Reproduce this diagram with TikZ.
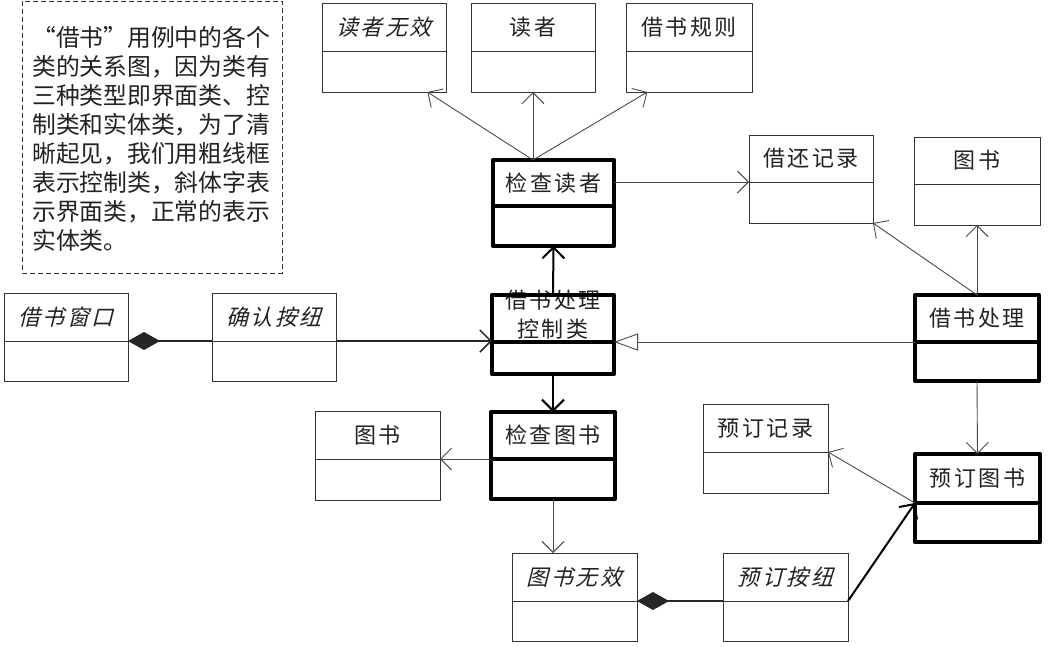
\documentclass[tikz,border=0pt]{standalone}
\usepackage{fontspec}
\setmainfont{Noto Sans CJK SC}
\newfontfamily\cjkup[LetterSpace=12]{Noto Sans CJK SC}
\newfontfamily\cjkit[LetterSpace=12,FakeSlant=0.25]{Noto Sans CJK SC}
\newfontfamily\cjknote{Noto Sans CJK SC}
\usetikzlibrary{arrows.meta,calc}
\definecolor{boxc}{HTML}{333333}
\definecolor{linec}{HTML}{4A4A4A}
\definecolor{txtc}{HTML}{222222}
\tikzset{
  thinbox/.style={draw=boxc, line width=1pt, inner sep=0pt, outer sep=0pt},
  thickbox/.style={draw=black, line width=4.8pt, line join=round, inner sep=0pt, outer sep=0pt},
  lbl/.style={font=\cjkup\fontsize{22}{29}\selectfont, text=txtc, inner sep=0pt, align=center},
  lblit/.style={font=\cjkit\fontsize{22}{29}\selectfont, text=txtc, inner sep=0pt},
  notetxt/.style={font=\cjknote\fontsize{23.8}{29}\selectfont, text=txtc, inner sep=0pt},
  barb/.style={-{Straight Barb[length=11pt,width=22pt]}},
  con/.style={draw=linec, line width=0.9pt, barb},
  medcon/.style={draw=black!85, line width=1.5pt, barb},
  thickcon/.style={draw=black, line width=2pt, barb},
  comp/.style={draw=black!85, line width=1.5pt, {Diamond[length=32pt,width=18pt]}-},
  gen/.style={draw=linec, line width=0.9pt, -{Triangle[open,length=24pt,width=17pt,fill=white]}},
}
\newcommand\classbox[9]{%
  \node[#7, anchor=north west, minimum width={#4-#2}, minimum height={#5-#3}] (#1) at (#2,#3) {};
  \draw[#7] (#2,#6) -- (#4,#6);
  \coordinate (#1-dw) at (#2,#6);
  \coordinate (#1-de) at (#4,#6);
  \node[#9] (#1-t) at ({(#2+#4)/2},{(#3+#6)/2}) {#8};
}
\begin{document}
\begin{tikzpicture}[x=1pt,y=-1pt]
\useasboundingbox (0,0) rectangle (1050,646);
\fill[white] (0,0) rectangle (1050,646);

% note
\node[draw=boxc, dash pattern=on 5pt off 3pt, line width=1pt, anchor=north west,
      minimum width=260, minimum height=272, inner sep=0pt, outer sep=0pt] (note) at (22,1) {};
\foreach \t [count=\i] in {“借书”用例中的各个,类的关系图，因为类有,三种类型即界面类、控,制类和实体类，为了清,晰起见，我们用粗线框,表示控制类，斜体字表,示界面类，正常的表示,实体类。}
  {\node[notetxt, anchor=base west] (note-\i) at (32,{46+29*(\i-1)}) {\t};}

% classes
\classbox{wx}{322}{3}{446}{92}{51}{thinbox}{读者无效}{lblit}
\classbox{dz}{471}{3}{595}{92}{51}{thinbox}{读者}{lbl}
\classbox{gz}{626}{3}{752}{92}{51}{thinbox}{借书规则}{lbl}
\classbox{ckdz}{493}{160}{614}{246}{206}{thickbox}{检查读者}{lbl}
\classbox{jhjl}{749}{135}{873}{223}{182}{thinbox}{借还记录}{lbl}
\classbox{tsa}{914}{137}{1040}{225}{184}{thinbox}{图书}{lbl}
\classbox{jw}{4}{293}{128}{381}{341}{thinbox}{借书窗口}{lblit}
\classbox{qr}{212}{293}{336}{381}{341}{thinbox}{确认按纽}{lblit}
\node[lbl] (ctl-t) at (553,315) {借书处理\\控制类};
\classbox{ctl}{492}{295}{614}{374}{342}{thickbox}{}{lbl}
\classbox{jscl}{915}{295}{1039}{381}{342}{thickbox}{借书处理}{lbl}
\classbox{tsb}{315}{411}{440}{500}{459}{thinbox}{图书}{lbl}
\classbox{ckts}{491}{412}{615}{499}{459}{thickbox}{检查图书}{lbl}
\classbox{ydjl}{703}{404}{828}{493}{452}{thinbox}{预订记录}{lbl}
\classbox{ydts}{915}{454}{1040}{542}{503}{thickbox}{预订图书}{lbl}
\classbox{tswx}{512}{553}{637}{641}{601}{thinbox}{图书无效}{lblit}
\classbox{ydan}{723}{553}{848}{641}{601}{thinbox}{预订按纽}{lblit}

% connectors
\coordinate (src) at (dz.south |- ckdz.north);
\draw[con] (src) -- (dz.south);
\draw[con] (src) -- ($(wx.south west)!0.85!(wx.south east)$);
\draw[con] (src) -- ($(gz.south west)!0.17!(gz.south east)$);
\draw[con] (ckdz.east |- jhjl-dw) -- (jhjl-dw);
\draw[con] (jscl.north) -- (tsa.south);
\draw[con] (jscl.north) -- (jhjl.south east);
\draw[thickcon] (ctl.north) -- (ckdz.south);
\draw[thickcon] (ctl.south) -- (ckts.north);
\draw[medcon] (qr-de) -- (qr-de -| ctl.west);
\draw[comp] (jw-de) -- (qr-dw);
\draw[gen] (jscl-dw) -- (jscl-dw -| ctl.east);
\draw[con] (ckts-dw) -- (tsb.east |- ckts-dw);
\draw[con] (ckts.south) -- (ckts.south |- tswx.north);
\draw[con] (jscl.south) -- (ydts.north);
\draw[con] (ydts-dw) -- (ydjl-de);
\draw[thickcon] (ydan-de) -- (ydts-dw);
\draw[comp] (tswx-de) -- (ydan-dw);
\end{tikzpicture}
\end{document}
